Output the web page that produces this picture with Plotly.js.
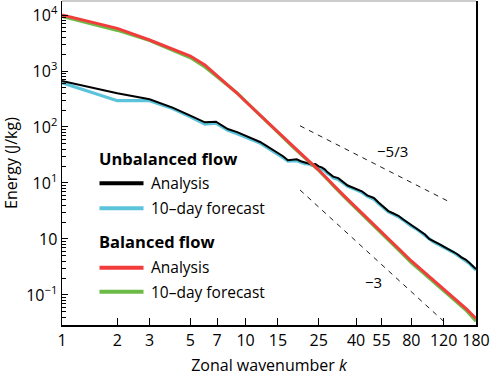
<!DOCTYPE html>
<html>
<head>
<meta charset="utf-8">
<script src="https://cdn.plot.ly/plotly-3.0.1.min.js"></script>
<style>html,body{margin:0;padding:0;background:#fff;}#chart{width:491px;height:376px;}</style>
</head>
<body>
<div id="chart"></div>
<script>
// Unbalanced flow – analysis (black)
const kUA = [1,2,3,4,5,6,6.9,8,9,10,11,12,13,14,15,16,17,18,19,20,21,22,23,24,25,26,27,28,29,30,32,34,36,38,40,43,46,50,53,56,60,64,68,72,76,80,85,90,95,100,105,110,115,120,128,135,142,150,158,165,172,180];
const eUA = [663,400,313,222,160,121,124,92,81,69,61,54,46,39.5,35,30,25.5,26,26.5,24.5,23.5,23,21.5,21.8,19.8,19,17.5,15.5,14.4,13,12.2,10.4,9.0,8.4,7.9,7.1,6.0,5.4,4.5,3.8,3.15,2.85,2.6,2.25,2.0,1.75,1.58,1.36,1.2,1.0,0.93,0.86,0.79,0.73,0.65,0.6,0.54,0.47,0.43,0.38,0.33,0.29];
// Unbalanced flow – 10-day forecast (cyan)
const kUF = [1,2,3,4,5,6,6.9,8,9,10,11,12,13,14,15,16,17,18,19,20,21,22,23,24,25,26,27,28,29,30,32,34,36,38,40,43,46,50,53,56,60,64,68,72,76,80,85,90,95,100,105,110,115,120,128,135,142,150,158,165,172,180];
const eUF = [617,295,295,214,152,113,117,87,76,65,58,51.5,44,37.5,33,28.5,24.5,24.8,25,23.5,22.2,22,20.6,20.5,19,18,16.6,14.8,13.8,12.4,11.5,10,8.7,8.1,7.5,6.8,5.8,5.1,4.3,3.7,3.05,2.75,2.5,2.2,1.92,1.7,1.52,1.32,1.15,0.98,0.9,0.83,0.77,0.71,0.63,0.58,0.52,0.46,0.42,0.37,0.32,0.28];
// Balanced flow – analysis (red)
const kBA = [1,2,3,4,5,6,7,8,9,10,11,12,13,14,15,16,18,20,22,25,28,30,35,40,45,50,55,60,70,80,90,100,120,140,160,180];
const eBA = [10000,5780,3580,2470,1850,1280,830,580,400,285,212,160,124,98,80,65,45,33,25,17.2,12,9.3,5.6,3.64,2.5,1.8,1.32,1.0,0.62,0.405,0.29,0.215,0.127,0.084,0.056,0.038];
// Balanced flow – 10-day forecast (green)
const kBF = [1,2,3,4,5,6,7,8,9,10,11,12,13,14,15,16,18,20,22,25,28,30,35,40,45,50,55,60,70,80,90,100,120,140,160,180];
const eBF = [9400,5300,3500,2350,1720,1180,790,570,405,290,214,161,124,97,79,64,44.5,32.5,24.5,16.8,11.5,8.9,5.35,3.45,2.38,1.7,1.24,0.95,0.58,0.375,0.27,0.2,0.117,0.078,0.052,0.034];
// Reference slopes
const kRef53 = [19.8,128.5];
const eRef53 = [105,4.63];
const kRef3 = [19.8,123.2];
const eRef3 = [7.5,0.0313];
// Tick labels
const xTickVals = [1,2,3,5,7,10,15,25,40,55,80,120,180];
const xTickText = ['1','2','3','5','7','10','15','25','40','55','80','120','180'];
const yTickVals = [0.1,1,10,100,1000,10000];
const yTickText = ['10<sup>−1</sup>','10','10<sup>1</sup>','10<sup>2</sup>','10<sup>3</sup>','10<sup>4</sup>'];

const C_BLACK = '#000000', C_CYAN = '#5bc3da', C_RED = '#f23c3c', C_GREEN = '#6cbb47';
const FONT = 'Open Sans, Noto Sans, sans-serif';

const yMinor = [];
for (let d = -2; d <= 4; d++) for (let m = 2; m <= 9; m++) yMinor.push(m * Math.pow(10, d));

const traces = [
  {x: kRef53, y: eRef53, mode: 'lines', line: {color: '#000', width: 0.9, dash: '5px,5px'}, hoverinfo: 'skip'},
  {x: kRef3, y: eRef3, mode: 'lines', line: {color: '#000', width: 0.9, dash: '5px,5px'}, hoverinfo: 'skip'},
  {x: kUF, y: eUF, mode: 'lines', name: '10–day forecast', line: {color: C_CYAN, width: 3.2}},
  {x: kUA, y: eUA, mode: 'lines', name: 'Analysis', line: {color: C_BLACK, width: 2}},
  {x: kBF, y: eBF, mode: 'lines', name: '10–day forecast', line: {color: C_GREEN, width: 3}},
  {x: kBA, y: eBA, mode: 'lines', name: 'Analysis', line: {color: C_RED, width: 3}}
];

const L = 62, R = 476, T = 1, B = 325;
const px = v => (v - L) / (R - L);
const py = v => (B - v) / (B - T);

const legLines = [
  [183.3, C_BLACK, 4], [208.3, C_CYAN, 4], [267.7, C_RED, 4], [291.7, C_GREEN, 4]
];
const shapes = legLines.map(([yy, c, w]) => ({type: 'line', xref: 'paper', yref: 'paper', x0: px(99.5), x1: px(143.5), y0: py(yy), y1: py(yy), line: {color: c, width: w}}));
shapes.push({type: 'line', xref: 'paper', yref: 'paper', x0: 0, x1: 1, y0: 1, y1: 1, line: {color: '#bbbbbb', width: 1.5}});

const ann = (txt, x, y, opts = {}) => Object.assign({text: txt, xref: 'paper', yref: 'paper', x: px(x), y: py(y), xanchor: 'left', yanchor: 'middle', showarrow: false, font: {family: FONT, size: 15, color: '#000'}}, opts);
const annotations = [
  ann('<b>Unbalanced flow</b>', 97, 158.5, {font: {family: FONT, size: 16.5, color: '#000'}}),
  ann('Analysis', 149, 183, {font: {family: FONT, size: 15.5, color: '#000'}}),
  ann('10–day forecast', 149, 208, {font: {family: FONT, size: 15.5, color: '#000'}}),
  ann('<b>Balanced flow</b>', 97, 241.5, {font: {family: FONT, size: 16.5, color: '#000'}}),
  ann('Analysis', 149, 267, {font: {family: FONT, size: 15.5, color: '#000'}}),
  ann('10–day forecast', 149, 291.5, {font: {family: FONT, size: 15.5, color: '#000'}}),
  ann('−5/3', 392, 151.5, {xanchor: 'center'}),
  ann('−3', 373, 281.5, {xanchor: 'center'})
];

const layout = {
  width: 491, height: 376,
  margin: {l: L, r: 491 - R, t: T, b: 376 - B},
  paper_bgcolor: '#fff', plot_bgcolor: '#fff',
  showlegend: false,
  font: {family: FONT, size: 16, color: '#000'},
  xaxis: {
    type: 'log', range: [0, Math.log10(180)],
    tickmode: 'array', tickvals: xTickVals, ticktext: xTickText,
    ticks: 'inside', ticklen: 7, tickwidth: 1, tickcolor: '#000',
    showgrid: false, zeroline: false,
    showline: true, linecolor: '#000', linewidth: 1.5,
    tickfont: {family: FONT, size: 16},
    title: {text: 'Zonal wavenumber <i>k</i>', font: {family: FONT, size: 16}, standoff: 12}
  },
  yaxis: {
    type: 'log', range: [-1.536, 4.25],
    tickmode: 'array', tickvals: yTickVals, ticktext: yTickText,
    ticks: 'inside', ticklen: 6, tickwidth: 1, tickcolor: '#000',
    minor: {tickmode: 'array', tickvals: yMinor, ticks: 'inside', ticklen: 4, tickwidth: 1, tickcolor: '#000', showgrid: false},
    showgrid: false, zeroline: false,
    showline: true, linecolor: '#000', linewidth: 1.5, mirror: true,
    tickfont: {family: FONT, size: 16},
    title: {text: 'Energy (J/kg)', font: {family: FONT, size: 16}, standoff: 4}
  },
  shapes: shapes,
  annotations: annotations
};

Plotly.newPlot('chart', traces, layout, {displayModeBar: false, staticPlot: true});
</script>
</body>
</html>
